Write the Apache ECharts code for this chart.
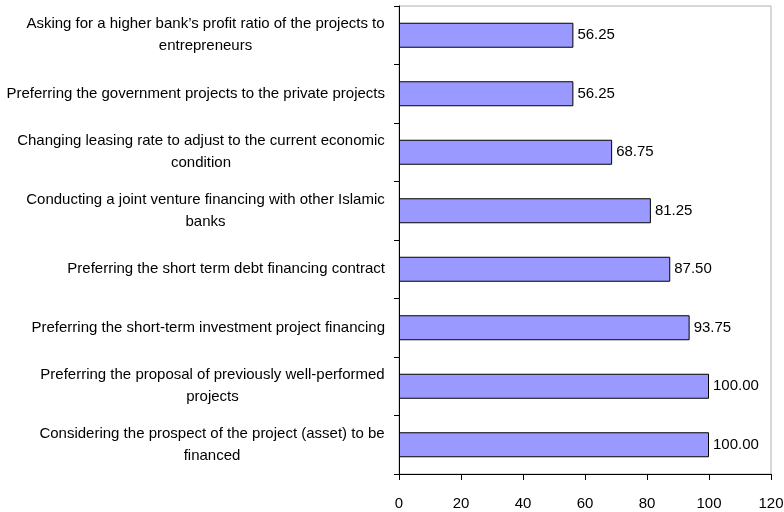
<!DOCTYPE html>
<html>
<head>
<meta charset="utf-8">
<script src="https://cdn.jsdelivr.net/npm/echarts@6/dist/echarts.min.js"></script>
<style>
  html, body { margin: 0; padding: 0; background: #fff; }
  #chart { width: 784px; height: 512px; }
</style>
</head>
<body>
<div id="chart"></div>
<script>
// Criteria, listed top to bottom, with explicit line breaks
const categories = [
  "Asking for a higher bank\u2019s profit ratio of the projects to\nentrepreneurs",
  "Preferring the government projects to the private projects",
  "Changing leasing rate to adjust to the current economic\ncondition",
  "Conducting a joint venture financing with other Islamic\nbanks",
  "Preferring the short term debt financing contract",
  "Preferring the short-term investment project financing",
  "Preferring the proposal of previously well-performed\nprojects",
  "Considering the prospect of the project (asset) to be\nfinanced"
];
const values = [56.25, 56.25, 68.75, 81.25, 87.50, 93.75, 100.00, 100.00];
const xTicks = { min: 0, max: 120, interval: 20 };

const FONT_FAMILY = "'Liberation Sans', Arial, sans-serif";
const CAT_SIZE = 15;
const VAL_SIZE = 15;
const TICK_SIZE = 15;

// Measure each label so wrapped lines can be centred within their own block
const ctx = document.createElement('canvas').getContext('2d');
ctx.font = CAT_SIZE + 'px ' + FONT_FAMILY;
const rich = {};
const labelBlock = {};
categories.forEach((c, i) => {
  const lines = c.split('\n');
  if (lines.length > 1) {
    const w = Math.ceil(Math.max(...lines.map(l => ctx.measureText(l).width)));
    rich['b' + i] = { width: w, align: 'center', fontSize: CAT_SIZE, fontFamily: FONT_FAMILY, color: '#000', lineHeight: 22 };
    labelBlock[c] = lines.map(l => '{b' + i + '|' + l + '}').join('\n');
  } else {
    labelBlock[c] = c;
  }
});

const chart = echarts.init(document.getElementById('chart'), null, { renderer: 'canvas' });
chart.setOption({
  animation: false,
  backgroundColor: '#ffffff',
  grid: {
    left: 399, right: 13, top: 6, bottom: 38,
    outerBoundsMode: 'none', containLabel: false,
    show: true, borderColor: '#b0b0b0', borderWidth: 1, backgroundColor: 'transparent'
  },
  xAxis: {
    type: 'value',
    min: xTicks.min, max: xTicks.max, interval: xTicks.interval,
    axisLine: { show: true, lineStyle: { color: '#000', width: 1 } },
    axisTick: { show: true, inside: false, length: 6, lineStyle: { color: '#000' } },
    splitLine: { show: false },
    axisLabel: { color: '#000', fontSize: TICK_SIZE, fontFamily: FONT_FAMILY, margin: 22 }
  },
  yAxis: {
    type: 'category',
    inverse: true,
    data: categories,
    axisLine: { show: true, lineStyle: { color: '#000', width: 1 } },
    axisTick: { show: true, inside: false, length: 5, alignWithLabel: false, lineStyle: { color: '#000' } },
    axisLabel: {
      color: '#000', fontSize: CAT_SIZE, fontFamily: FONT_FAMILY, margin: 14,
      lineHeight: 22, align: 'right', interval: 0,
      formatter: v => labelBlock[v],
      rich: rich
    }
  },
  series: [{
    type: 'bar',
    data: values,
    barWidth: 25,
    itemStyle: { color: '#9999ff', borderColor: '#000', borderWidth: 1 },
    label: {
      show: true, position: 'right', distance: 4,
      color: '#000', fontSize: VAL_SIZE, fontFamily: FONT_FAMILY,
      formatter: p => p.value.toFixed(2)
    }
  }]
});
</script>
</body>
</html>
